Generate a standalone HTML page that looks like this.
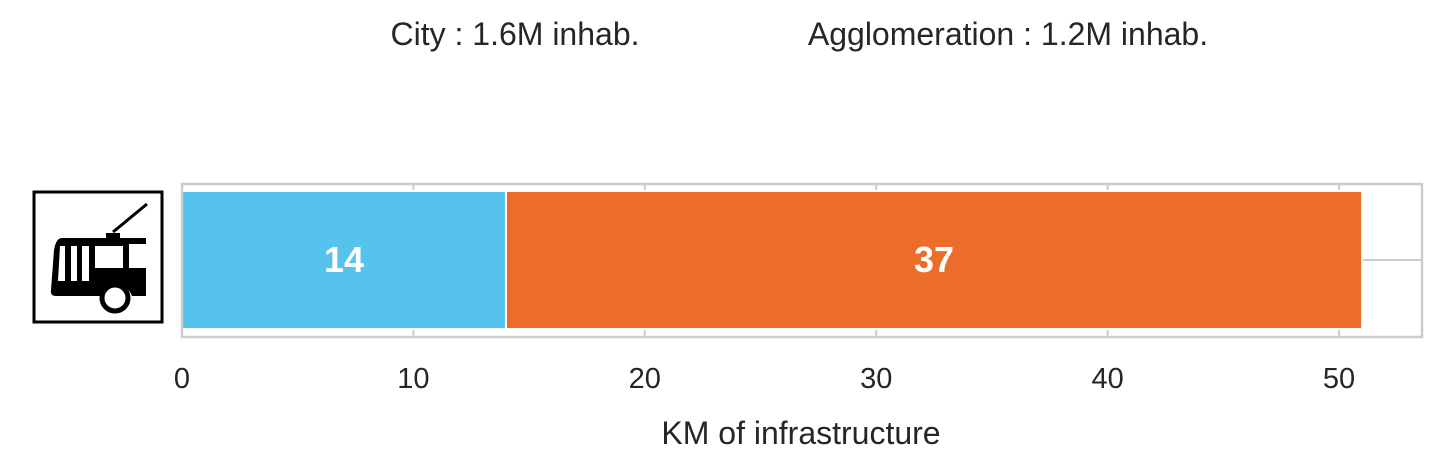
<!DOCTYPE html>
<html><head><meta charset="utf-8"><style>
body{margin:0;background:#fff;width:1442px;height:471px;overflow:hidden;font-family:"Liberation Sans",sans-serif}
</style></head><body>
<svg width="1442" height="471">
<text x="515" y="45" font-size="32" fill="#262626" text-anchor="middle">City : 1.6M inhab.</text>
<text x="1008" y="45" font-size="32" fill="#262626" text-anchor="middle">Agglomeration : 1.2M inhab.</text>
<g id="grid"></g>
<g id="bars"></g>
<rect x="182" y="184" width="1240" height="153" fill="none" stroke="#cccccc" stroke-width="2.5"/>
<g id="ticks"></g>
<text x="801" y="444" font-size="32" fill="#262626" text-anchor="middle">KM of infrastructure</text>
<g>
<rect x="34" y="192" width="128" height="130" fill="#fff" stroke="#000" stroke-width="3"/>
<line x1="113" y1="232" x2="147" y2="204" stroke="#000" stroke-width="3"/>
<rect x="106" y="233" width="14" height="6" fill="#000"/>
<path d="M62 238 L146 238 L146 244 L129 244 L129 268 L146 268 L146 296 L132 296 A17 17 0 0 0 100 296 L56 296 Q50 296 51 290 L54 250 Q56 238 62 238 Z M60 246 L58 281 L65 281 L65 246 Z M71 246 L71 281 L77 281 L77 246 Z M82 246 L82 281 L89 281 L89 246 Z M95 246 L95 268 L123 268 L123 246 Z" fill="#000" fill-rule="evenodd"/>
<circle cx="115" cy="298" r="13" fill="#fff" stroke="#000" stroke-width="5"/>
</g>
</svg>
<script>
const categories=["trolleybus"];
const cityValues=[14];
const agglomerationValues=[37];
const tickLabels=[0,10,20,30,40,50];
const x0=182,scale=23.14;
const xs=v=>x0+v*scale;
const ns="http://www.w3.org/2000/svg";
const grid=document.getElementById('grid'),bars=document.getElementById('bars'),ticks=document.getElementById('ticks');
function mk(tag,attrs,parent){const e=document.createElementNS(ns,tag);for(const k in attrs)e.setAttribute(k,attrs[k]);parent.appendChild(e);return e;}
tickLabels.forEach(t=>{
 const g=mk('line',{x1:xs(t),x2:xs(t),y1:184,y2:337,stroke:'#cccccc','stroke-width':2},grid);
 
 
 const tx=mk('text',{x:xs(t),y:388,'font-size':29,fill:'#262626','text-anchor':'middle'},ticks);
 tx.textContent=t;
 
 
});
const hg=mk('line',{x1:182,x2:1422,y1:260,y2:260,stroke:'#cccccc','stroke-width':2},grid);


categories.forEach((c,i)=>{
 const a=cityValues[i],b=agglomerationValues[i];
 const r1=mk('rect',{x:xs(0),y:191,width:xs(a)-xs(0),height:138,fill:'#56c3ec',stroke:'#fff','stroke-width':2},bars);
 
 
 const r2=mk('rect',{x:xs(a),y:191,width:xs(a+b)-xs(a),height:138,fill:'#ec6d2a',stroke:'#fff','stroke-width':2},bars);
 
 
 const t1=mk('text',{x:(xs(0)+xs(a))/2,y:272,'font-size':36,'font-weight':'bold',fill:'#fff','text-anchor':'middle'},bars);
 t1.textContent=a;
 
 
 const t2=mk('text',{x:(xs(a)+xs(a+b))/2,y:272,'font-size':36,'font-weight':'bold',fill:'#fff','text-anchor':'middle'},bars);
 t2.textContent=b;
 
 
});
</script>
</body></html>
